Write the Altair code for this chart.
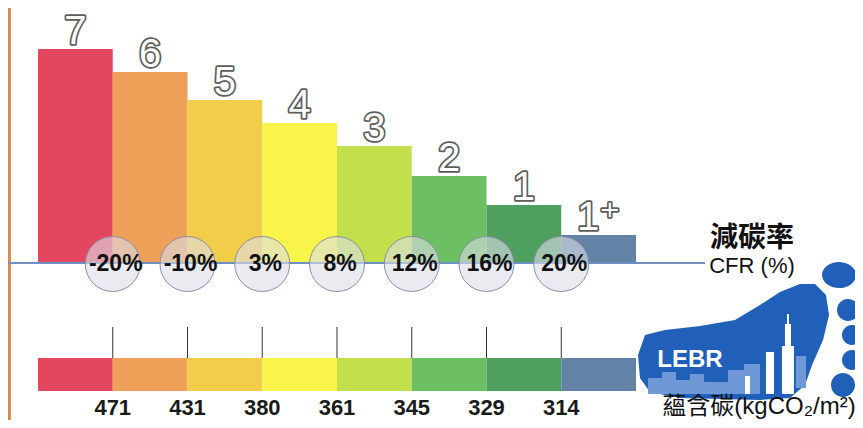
import altair as alt
import pandas as pd

# ---------------- data ----------------
grades = ["7", "6", "5", "4", "3", "2", "1", "1⁺"]
bar_heights = [214, 191, 163, 140, 117, 87, 58, 28]
grade_colors = ["#E5465F", "#EE9F58", "#F2CD4A", "#F8F44A", "#C1E04C", "#6CBF62", "#4E9F60", "#6383A6"]
cfr_labels = ["-20%", "-10%", "3%", "8%", "12%", "16%", "20%"]
carbon_values = ["471", "431", "380", "361", "345", "329", "314"]

bars = pd.DataFrame({
    "i0": list(range(len(grades))),
    "i1": [i + 1 for i in range(len(grades))],
    "mid": [i + 0.5 for i in range(len(grades))],
    "grade": grades,
    "h": bar_heights,
    "col": grade_colors,
})
bounds = pd.DataFrame({
    "pos": [i + 1 for i in range(len(cfr_labels))],
    "cfr": cfr_labels,
    "carbon": carbon_values,
})

# ---------------- layout ----------------
W, H = 847, 412
X0_PX, UNIT_PX = 30, 74.75          # pixel of index 0, pixels per grade
Y0_PX = 255                           # pixel of baseline
xdom = [-X0_PX / UNIT_PX, (W - X0_PX) / UNIT_PX]
ydom = [-(H - Y0_PX), Y0_PX]
xs = alt.Scale(domain=xdom, nice=False, zero=False)
ys = alt.Scale(domain=ydom, nice=False, zero=False)

def X(f):
    return alt.X(f, type="quantitative", scale=xs, axis=None)

def Y(f):
    return alt.Y(f, type="quantitative", scale=ys, axis=None)

base_b = alt.Chart(bars)
base_n = alt.Chart(bounds)

left_line = alt.Chart(bars).mark_rule(color="#D9884A", strokeWidth=2.5).encode(
    x=alt.value(1), y=alt.value(0), y2=alt.value(H))

bar_rects = base_b.mark_rect().encode(
    x=X("i0"), x2="i1", y=Y("h"), y2=alt.datum(0),
    color=alt.Color("col:N", scale=None))

lbl_font = "Liberation Sans, DejaVu Sans"
lbl_out = base_b.mark_text(fontSize=40, font=lbl_font, baseline="alphabetic", dy=-5,
                           fill="white", stroke="#5c5c5c", strokeWidth=3.5, strokeJoin="round").encode(
    x=X("mid"), y=Y("h"), text="grade:N")
lbl_in = base_b.mark_text(fontSize=40, font=lbl_font, baseline="alphabetic", dy=-5,
                          fill="white").encode(
    x=X("mid"), y=Y("h"), text="grade:N")

baseline = base_b.mark_rule(color="#6E8FC2", strokeWidth=1.6).encode(
    x=alt.value(0), x2=alt.value(697), y=alt.datum(0), y2=alt.datum(0))

circles = base_n.mark_circle(size=3020, fill="#DCDDE8", fillOpacity=0.6, opacity=1,
                             stroke="#8A8EA6", strokeWidth=1).encode(
    x=X("pos"), y=alt.value(256))
circle_txt = base_n.mark_text(fontSize=23, fontWeight="bold", font="Liberation Sans",
                              color="#111111", dx=3, baseline="middle").encode(
    x=X("pos"), y=alt.value(256), text="cfr:N")

strip = base_b.mark_rect().encode(
    x=X("i0"), x2="i1", y=alt.value(350), y2=alt.value(383),
    color=alt.Color("col:N", scale=None))
ticks = base_n.mark_rule(color="#333333", strokeWidth=1).encode(
    x=X("pos"), y=alt.value(319), y2=alt.value(350))
carbon_txt = base_n.mark_text(fontSize=22, fontWeight="bold", font="Liberation Sans",
                              color="#1a1a1a", baseline="alphabetic").encode(
    x=X("pos"), y=alt.value(407), text="carbon:N")

# ---------------- logo (decoration) ----------------
CX, CY, HALF = 749, 331.5, 111

def u(x, y):
    return f"{(x - CX) / HALF:.3f} {(y - CY) / HALF:.3f}"

foot_pts = [(638, 355), (645, 335), (665, 330), (700, 326), (735, 320), (760, 305), (780, 292),
            (800, 284), (815, 284), (826, 295), (829, 315), (823, 340), (812, 365), (805, 385),
            (790, 398), (760, 400), (720, 399), (680, 398), (650, 392), (640, 378)]
foot_path = "M " + " L ".join(u(x, y) for x, y in foot_pts) + " Z"

def ell(cx, cy, rx, ry):
    a, b = (cx - CX) / HALF, (cy - CY) / HALF
    ra, rb = rx / HALF, ry / HALF
    return (f" M {a - ra:.3f} {b:.3f} A {ra:.3f} {rb:.3f} 0 1 0 {a + ra:.3f} {b:.3f}"
            f" A {ra:.3f} {rb:.3f} 0 1 0 {a - ra:.3f} {b:.3f} Z")

toes = [(839, 275, 17, 13), (848, 310, 11, 11), (852, 335, 10, 10), (852, 360, 10, 10), (843, 385, 12, 12)]
logo_path = foot_path + "".join(ell(*t) for t in toes)

def rects_path(rs):
    out = []
    for x1, y1, x2, y2 in rs:
        out.append(f"M {u(x1, y1)} L {u(x2, y1)} L {u(x2, y2)} L {u(x1, y2)} Z")
    return " ".join(out)

sky_light = rects_path([(648, 378, 662, 394), (662, 372, 676, 394), (676, 380, 690, 394),
                        (690, 374, 704, 394), (704, 382, 728, 394), (728, 370, 744, 394),
                        (744, 364, 760, 394), (796, 356, 806, 388)])
sky_white = rects_path([(785, 324, 791, 394), (782, 346, 794, 394), (766, 352, 774, 394),
                        (745, 376, 750, 394), (787, 314, 789, 326)])

LX, LY, LSIZE = CX - 8, CY - 8, (2 * HALF) ** 2
logo_layers = []
for shape, col in [(logo_path, "#2160B8"), (sky_light, "#6E98D6"), (sky_white, "#FFFFFF")]:
    logo_layers.append(
        alt.Chart(bars.head(1)).mark_point(shape=shape, filled=True, fill=col, opacity=1,
                                           size=LSIZE, strokeWidth=0).encode(
            x=alt.value(LX), y=alt.value(LY)))

one = alt.Chart(bars.head(1))
lebr = one.mark_text(text="LEBR", fontSize=24, fontWeight="bold", font="Liberation Sans",
                     color="white", baseline="middle").encode(x=alt.value(682), y=alt.value(352))
cfr_zh = one.mark_text(text="減碳率", fontSize=28, fontWeight="bold", font="Noto Sans CJK TC",
                       color="#111111", baseline="middle").encode(x=alt.value(744), y=alt.value(231))
cfr_en = one.mark_text(text="CFR (%)", fontSize=22, font="Liberation Sans",
                       color="#111111", baseline="middle").encode(x=alt.value(744), y=alt.value(258))
carbon_lbl = one.mark_text(text="蘊含碳(kgCO₂/m²)", fontSize=24,
                           font="Liberation Sans, Noto Sans CJK TC, DejaVu Sans",
                           color="#111111", baseline="alphabetic").encode(x=alt.value(751), y=alt.value(406))

chart = alt.layer(
    left_line, bar_rects, lbl_out, lbl_in, baseline, circles, circle_txt,
    strip, ticks, carbon_txt, *logo_layers, lebr, cfr_zh, cfr_en, carbon_lbl
).properties(
    width=W, height=H, padding=0, autosize=alt.AutoSizeParams(type="none")
).configure_view(stroke=None)

chart.save("out.html", embed_options={"renderer": "svg", "actions": False})
